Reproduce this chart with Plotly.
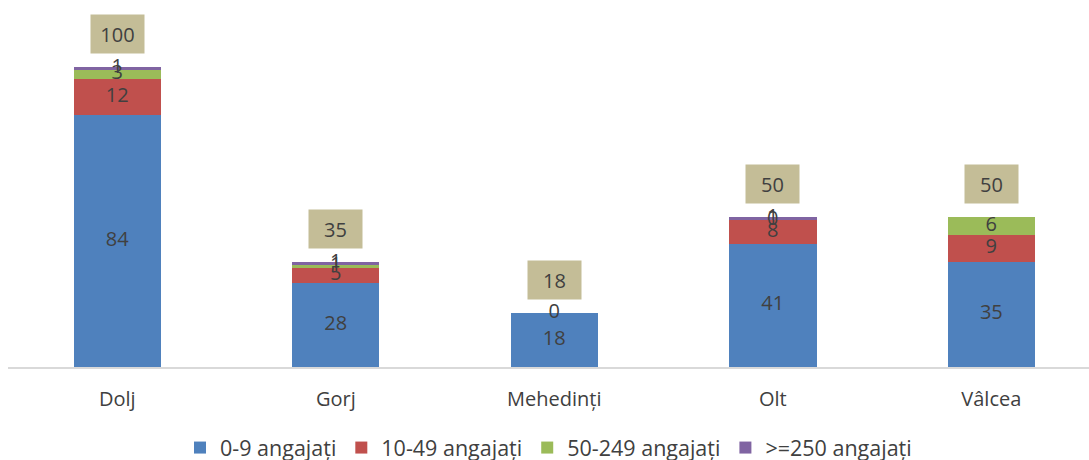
import plotly.graph_objects as go

categories = ["Dolj", "Gorj", "Mehedinți", "Olt", "Vâlcea"]
series_names = ["0-9 angajați", "10-49 angajați", "50-249 angajați", ">=250 angajați"]
v_0_9 = [84, 28, 18, 41, 35]
v_10_49 = [12, 5, 0, 8, 9]
v_50_249 = [3, 1, None, 0, 6]
v_250 = [1, 1, None, 1, None]
totals = [100, 35, 18, 50, 50]

colors = ["#4F81BD", "#C0504D", "#9BBB59", "#8064A2"]
font_family = "Open Sans"
txt_color = "#404040"
fs = 20

series = [v_0_9, v_10_49, v_50_249, v_250]

fig = go.Figure()
for name, vals, col in zip(series_names, series, colors):
    fig.add_trace(go.Bar(
        x=categories, y=vals, name=name, marker=dict(color=col, line=dict(width=0)),
        width=0.4, hoverinfo="skip",
    ))

# segment labels at centers of stacked segments
base = [0] * len(categories)
for vals in series:
    xs, ys, ts = [], [], []
    for i, v in enumerate(vals):
        if v is None:
            continue
        xs.append(categories[i])
        ys.append(base[i] + v / 2)
        ts.append(str(v))
        base[i] += v
    fig.add_trace(go.Scatter(x=xs, y=ys, text=ts, mode="text", showlegend=False,
                             textposition="middle center", hoverinfo="skip",
                             textfont=dict(color=txt_color, size=fs, family=font_family)))

for c, t in zip(categories, totals):
    fig.add_annotation(x=c, y=t, text=str(t), showarrow=False, yshift=33,
                       bgcolor="#C4BD97", width=53, height=38, borderpad=0,
                       font=dict(size=fs, color=txt_color, family=font_family),
                       xanchor="center", yanchor="middle")

fig.update_layout(
    barmode="stack",
    width=1089, height=460,
    margin=dict(l=8, r=0, t=0, b=93, autoexpand=False),
    plot_bgcolor="white", paper_bgcolor="white",
    font=dict(family=font_family, color=txt_color, size=fs),
    xaxis=dict(range=[-0.5, 4.447], showline=True, linecolor="#D9D9D9", linewidth=1.5,
               ticks="", tickfont=dict(size=fs, color=txt_color), showgrid=False,
               ticklabelstandoff=13, zeroline=False, automargin=False),
    yaxis=dict(range=[0, 122.3], visible=False, showgrid=False, automargin=False),
    legend=dict(orientation="h", x=0.5, xanchor="center",
                yref="container", y=0.027, yanchor="middle",
                font=dict(size=21.5, color=txt_color), traceorder="normal"),
    bargap=0.6,
)

fig.write_html("out.html", config={"displayModeBar": False},
               post_script="document.body.style.margin='0px';")
